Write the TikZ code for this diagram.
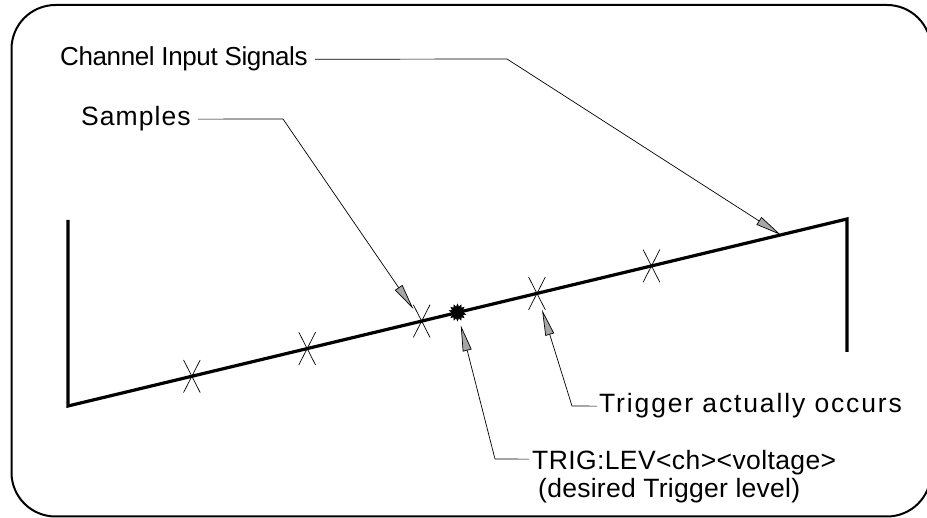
\documentclass[tikz,border=0pt]{standalone}
\usepackage{fontspec}
\setmainfont{Liberation Sans}
\usetikzlibrary{arrows.meta,positioning,shapes.misc,shapes.geometric}

\begin{document}
\begin{tikzpicture}[
  x=1pt, y=-1pt,
  frame/.style={line width=2pt, rounded corners=44pt},
  sig/.style={line width=3.2pt, line join=miter},
  smp/.style={cross out, draw, line width=0.7pt, minimum width=16pt, minimum height=32pt, inner sep=0pt},
  trg/.style={star, star points=14, star point ratio=1.5, fill=black, draw, minimum size=17pt, inner sep=0pt},
  lbl/.style={inner xsep=7pt, inner ysep=0pt, font=\fontsize{26.5}{27}\selectfont},
  lead/.style={line width=0.7pt, -{Triangle[length=26pt, width=9pt, fill=black!35, line width=0.7pt]}}
]
  \useasboundingbox (0,0) rectangle (927,518);
  \draw[frame] (11.5,5) rectangle (931,516.5);

  % the signal
  \coordinate (sigA) at (68,220);
  \coordinate (sigB) at (68,406);
  \coordinate (sigC) at (847,219);
  \coordinate (sigD) at (847,352);
  \draw[sig] (sigA) -- (sigB) -- (sigC) -- (sigD);

  % samples and trigger level
  \foreach \p [count=\i] in {0.159,0.307,0.454,0.602,0.749}
    \path (sigB) -- (sigC) node[smp, pos=\p] (s\i) {};
  \path (sigB) -- (sigC) node[trg, pos=0.5] (lev) {}
    node[coordinate, pos=0.915] (chtip) {};

  % labels
  \node[lbl, anchor=base west, font=\fontsize{26}{27}\selectfont\addfontfeature{LetterSpace=-1.5}] (chan) at (53,66) {Channel Input Signals};
  \node[lbl, anchor=base west, font=\fontsize{26.5}{27}\selectfont\addfontfeature{LetterSpace=4}] (samp) at (74,126) {Samples};
  \node[lbl, inner xsep=2pt, anchor=base west, font=\fontsize{26.5}{27}\selectfont\addfontfeature{LetterSpace=7}] (occ) at (597,413) {Trigger actually occurs};
  \node[lbl, inner xsep=3pt, anchor=base west, font=\fontsize{26.5}{27}\selectfont\addfontfeature{LetterSpace=1.5}] (trig) at (529,470) {TRIG:LEV<ch><voltage>};
  \node[lbl, anchor=base west, font=\fontsize{26.5}{27}\selectfont\addfontfeature{LetterSpace=1}] (trigsub) at (531,497) {(desired Trigger level)};

  \coordinate (chanbend) at (507,59);
  \coordinate (sampbend) at (283,119);
  \coordinate (occbend) at (572,406);
  \coordinate (trigbend) at (495,459);

  \draw[lead] (chan.east) -- (chanbend) -- (chtip);
  \draw[lead] (samp.east) -- (sampbend) -- (s3);
  \draw[lead] (occ.west) -- (occbend) -- (s4);
  \draw[lead, shorten >=7pt] ([yshift=4pt]trig.west) -- (trigbend) -- (lev);
\end{tikzpicture}
\end{document}
